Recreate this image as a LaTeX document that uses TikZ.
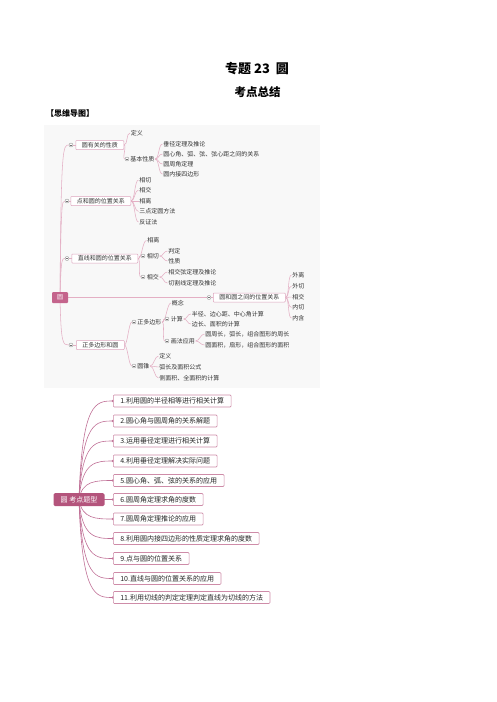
\documentclass[tikz,border=0pt]{standalone}
\usepackage{fontspec}
\newfontfamily\cjk{Noto Sans CJK SC}
\definecolor{rootA}{RGB}{196,100,140}
\definecolor{rootB}{RGB}{180,84,124}
\definecolor{bdA}{RGB}{222,165,190}
\definecolor{lnA}{RGB}{228,175,196}
\definecolor{bdB}{RGB}{206,140,168}
\definecolor{lnB}{RGB}{192,112,150}
\definecolor{bgA}{RGB}{248,248,248}
\pgfdeclarelayer{bgzero}
\pgfdeclarelayer{links}
\pgfsetlayers{bgzero,links,main}
\begin{document}
\begin{tikzpicture}[x=1pt,y=-1pt,
  fsix/.style={font=\cjk\fontsize{6}{7}\selectfont},
  bx/.style={draw=bdA, fill=white, line width=0.5pt, rounded corners=0.8pt, inner xsep=6pt, inner ysep=0pt, minimum height=9pt, anchor=west, fsix, text=black!80},
  lf/.style={inner xsep=0.6pt, inner ysep=0pt, anchor=west, fsix, text=black!80},
  cc/.style={circle, draw=black!45, fill=white, line width=0.35pt, minimum size=4pt, inner sep=0pt,
    path picture={\draw[black!55, line width=0.35pt] ([xshift=-1.2pt]path picture bounding box.center) -- ([xshift=1.2pt]path picture bounding box.center);}},
  ka/.style={draw=lnA, line width=0.55pt},
  bxb/.style={draw=bdB, fill=white, line width=0.6pt, rounded corners=1pt, inner xsep=7pt, inner ysep=0pt, minimum height=12pt, anchor=west, font=\cjk\fontsize{7}{8}\selectfont, text=black!85},
  kb/.style={draw=lnB, line width=0.6pt}
]
\useasboundingbox (0,0) rectangle (496,702);

% titles
\node[font=\cjk\bfseries\fontsize{13}{14}\selectfont] (t1) at (257,69) {专题 23\ \ 圆};
\node[font=\cjk\bfseries\fontsize{11.5}{12}\selectfont] (t2) at (257.5,92) {考点总结};
\node[font=\cjk\bfseries\fontsize{8}{9}\selectfont, anchor=west, inner sep=0pt] (t3) at (46,113) {【思维导图】};

\begin{pgfonlayer}{bgzero}
\fill[bgA] (44,125) rectangle (320,388);
\end{pgfonlayer}

% ===== map 1 =====
\node[fill=rootA, text=white, rounded corners=1pt, minimum width=16pt, minimum height=11pt, inner sep=0pt, fsix] (r) at (60,297.5) {圆};

% branch 1
\node[cc] (c1) at (71,145) {};
\node[bx] (b1) at (75.5,145) {圆有关的性质};
\node[lf] (l11) at (130,133) {定义};
\node[cc] (c12) at (127,159) {};
\node[lf] (l12) at (129.5,159) {基本性质};
\node[lf] (l121) at (162.5,144) {垂径定理及推论};
\node[lf] (l122) at (162.5,154) {圆心角、弧、弦、弦心距之间的关系};
\node[lf] (l123) at (162.5,164) {圆周角定理};
\node[lf] (l124) at (162.5,174) {圆内接四边形};

% branch 2
\node[cc] (c2) at (67,201) {};
\node[bx] (b2) at (70.5,201) {点和圆的位置关系};
\node[lf] (l21) at (138.5,180) {相切};
\node[lf] (l22) at (138.5,190) {相交};
\node[lf] (l23) at (138.5,201) {相离};
\node[lf] (l24) at (138.5,211.5) {三点定圆方法};
\node[lf] (l25) at (138.5,222) {反证法};

% branch 3
\node[cc] (c3) at (67,258.5) {};
\node[bx] (b3) at (71.5,258.5) {直线和圆的位置关系};
\node[lf] (l31) at (146.5,240.5) {相离};
\node[cc] (c32) at (143,256) {};
\node[lf] (l32) at (146,256) {相切};
\node[cc] (c33) at (143,277) {};
\node[lf] (l33) at (146,277) {相交};
\node[lf] (l321) at (167.5,251) {判定};
\node[lf] (l322) at (167.5,261) {性质};
\node[lf] (l331) at (167.5,272) {相交弦定理及推论};
\node[lf] (l332) at (167.5,283) {切割线定理及推论};

% branch 5 (right)
\node[cc] (c5) at (209,297.5) {};
\node[bx] (b5) at (213,297.5) {圆和圆之间的位置关系};
\node[lf] (l51) at (291.5,275) {外离};
\node[lf] (l52) at (291.5,286) {外切};
\node[lf] (l53) at (291.5,297) {相交};
\node[lf] (l54) at (291.5,307.5) {内切};
\node[lf] (l55) at (291.5,318) {内含};

% branch 4
\node[cc] (c4) at (71,345) {};
\node[bx] (b4) at (76,345) {正多边形和圆};
\node[cc] (c41) at (134,322) {};
\node[lf] (l41) at (136.5,322) {正多边形};
\node[cc] (c42) at (134,366) {};
\node[lf] (l42) at (136.5,366) {圆锥};
\node[lf] (l411) at (171,303) {概念};
\node[cc] (c412) at (167,319) {};
\node[lf] (l412) at (170,319) {计算};
\node[cc] (c413) at (167,341) {};
\node[lf] (l413) at (170,341) {画法应用};
\node[lf] (l4121) at (191,314) {半径、边心距、中心角计算};
\node[lf] (l4122) at (191,324) {边长、面积的计算};
\node[lf] (l4131) at (204.5,334) {圆周长，弧长，组合图形的周长};
\node[lf] (l4132) at (204.5,345) {圆面积，扇形，组合图形的面积};
\node[lf] (l421) at (158.5,356) {定义};
\node[lf] (l422) at (158.5,367) {弧长及面积公式};
\node[lf] (l423) at (158.5,378) {侧面积、全面积的计算};

\begin{pgfonlayer}{links}
\draw[ka] (r.center) .. controls (61,145) and (63,145) .. (c1.west);
\draw[ka] (r.center) .. controls (61,201) and (62,201) .. (c2.west);
\draw[ka] (r.center) .. controls (61,258.5) and (62,258.5) .. (c3.west);
\draw[ka] (r.center) .. controls (61,345) and (63,345) .. (c4.west);
\draw[ka] (r.east) -- (c5.west);
\draw[ka] (c1.east) -- (b1.west);
\draw[ka] (c2.east) -- (b2.west);
\draw[ka] (c3.east) -- (b3.west);
\draw[ka] (c4.east) -- (b4.west);
\draw[ka] (c5.east) -- (b5.west);
% b1
\draw[ka] (b1.east) .. controls +(4,0) and +(-4,0) .. (l11.west);
\draw[ka] (b1.east) .. controls +(3,0) and +(-3,0) .. (c12.west);
\draw[ka] (l12.east) .. controls +(4,0) and +(-4,0) .. (l121.west);
\draw[ka] (l12.east) .. controls +(4,0) and +(-4,0) .. (l122.west);
\draw[ka] (l12.east) .. controls +(4,0) and +(-4,0) .. (l123.west);
\draw[ka] (l12.east) .. controls +(4,0) and +(-4,0) .. (l124.west);
% b2
\draw[ka] (b2.east) .. controls +(4,0) and +(-4,0) .. (l21.west);
\draw[ka] (b2.east) .. controls +(4,0) and +(-4,0) .. (l22.west);
\draw[ka] (b2.east) .. controls +(4,0) and +(-4,0) .. (l23.west);
\draw[ka] (b2.east) .. controls +(4,0) and +(-4,0) .. (l24.west);
\draw[ka] (b2.east) .. controls +(4,0) and +(-4,0) .. (l25.west);
% b3
\draw[ka] (b3.east) .. controls +(4,0) and +(-4,0) .. (l31.west);
\draw[ka] (b3.east) .. controls +(3,0) and +(-3,0) .. (c32.west);
\draw[ka] (b3.east) .. controls +(3,0) and +(-3,0) .. (c33.west);
\draw[ka] (l32.east) .. controls +(4,0) and +(-4,0) .. (l321.west);
\draw[ka] (l32.east) .. controls +(4,0) and +(-4,0) .. (l322.west);
\draw[ka] (l33.east) .. controls +(4,0) and +(-4,0) .. (l331.west);
\draw[ka] (l33.east) .. controls +(4,0) and +(-4,0) .. (l332.west);
% b5
\draw[ka] (b5.east) .. controls +(4,0) and +(-4,0) .. (l51.west);
\draw[ka] (b5.east) .. controls +(4,0) and +(-4,0) .. (l52.west);
\draw[ka] (b5.east) -- (l53.west);
\draw[ka] (b5.east) .. controls +(4,0) and +(-4,0) .. (l54.west);
\draw[ka] (b5.east) .. controls +(4,0) and +(-4,0) .. (l55.west);
% b4
\draw[ka] (b4.east) .. controls +(3,0) and +(-3,0) .. (c41.west);
\draw[ka] (b4.east) .. controls +(3,0) and +(-3,0) .. (c42.west);
\draw[ka] (l41.east) .. controls +(4,0) and +(-4,0) .. (l411.west);
\draw[ka] (l41.east) .. controls +(3,0) and +(-3,0) .. (c412.west);
\draw[ka] (l41.east) .. controls +(3,0) and +(-3,0) .. (c413.west);
\draw[ka] (l412.east) .. controls +(4,0) and +(-4,0) .. (l4121.west);
\draw[ka] (l412.east) .. controls +(4,0) and +(-4,0) .. (l4122.west);
\draw[ka] (l413.east) .. controls +(4,0) and +(-4,0) .. (l4131.west);
\draw[ka] (l413.east) .. controls +(4,0) and +(-4,0) .. (l4132.west);
\draw[ka] (l42.east) .. controls +(4,0) and +(-4,0) .. (l421.west);
\draw[ka] (l42.east) .. controls +(4,0) and +(-4,0) .. (l422.west);
\draw[ka] (l42.east) .. controls +(4,0) and +(-4,0) .. (l423.west);
\end{pgfonlayer}

% ===== map 2 =====
\node[fill=rootB, text=white, rounded corners=1.5pt, minimum width=51pt, minimum height=13pt, inner sep=0pt, font=\cjk\fontsize{7}{8}\selectfont] (m) at (79,499.5) {圆\ 考点题型};
\node[bxb] (q1) at (113,401) {1.利用圆的半径相等进行相关计算};
\node[bxb] (q2) at (113,421) {2.圆心角与圆周角的关系解题};
\node[bxb] (q3) at (113,441) {3.运用垂径定理进行相关计算};
\node[bxb] (q4) at (113,461) {4.利用垂径定理解决实际问题};
\node[bxb] (q5) at (113,480.5) {5.圆心角、弧、弦的关系的应用};
\node[bxb] (q6) at (113,499.5) {6.圆周角定理求角的度数};
\node[bxb] (q7) at (113,519) {7.圆周角定理推论的应用};
\node[bxb] (q8) at (113,538.5) {8.利用圆内接四边形的性质定理求角的度数};
\node[bxb] (q9) at (113,558.5) {9.点与圆的位置关系};
\node[bxb] (q10) at (113,578.5) {10.直线与圆的位置关系的应用};
\node[bxb] (q11) at (113,597.5) {11.利用切线的判定定理判定直线为切线的方法};

\begin{pgfonlayer}{links}
\foreach \q/\yy in {q1/401,q2/421,q3/441,q4/461,q5/480.5,q7/519,q8/538.5,q9/558.5,q10/578.5,q11/597.5}{
  \draw[kb] (m.center) .. controls (82,\yy) and (96,\yy) .. (\q.west);
  \fill[lnB] (\q.west) circle (1.3);
}
\draw[kb] (m.center) -- (q6.west);
\fill[lnB] (q6.west) circle (1.3);
\end{pgfonlayer}
\end{tikzpicture}
\end{document}
